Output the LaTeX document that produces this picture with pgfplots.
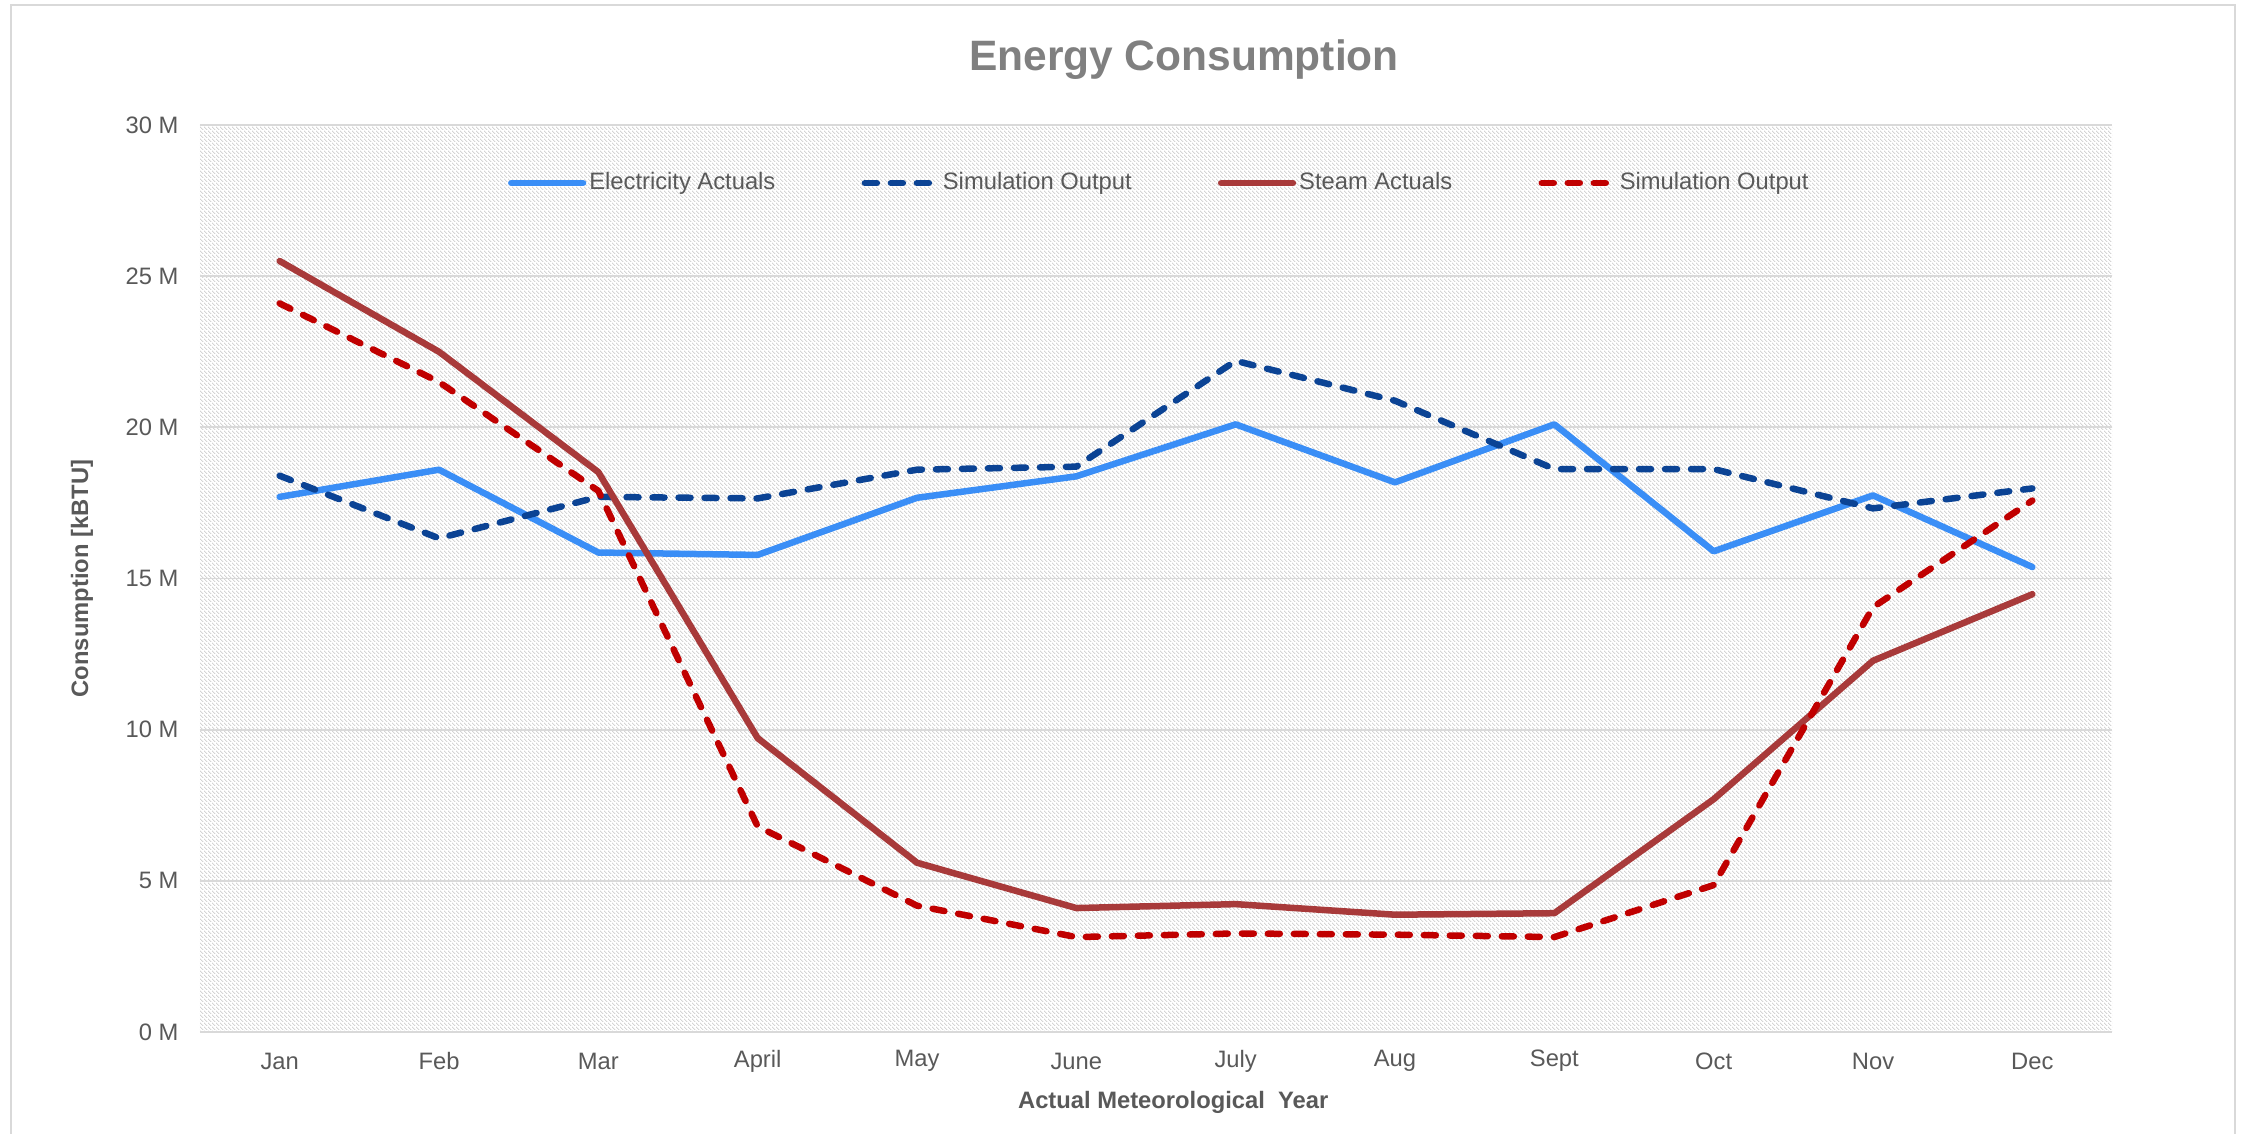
\documentclass[border=0pt]{standalone}
\usepackage{fontspec}
\setmainfont{Liberation Sans}
\usepackage{pgfplots}
\usepackage{pgfplotstable}
\pgfplotsset{compat=1.18}
\usetikzlibrary{patterns.meta}
\definecolor{elec}{HTML}{3A8EF6}
\definecolor{simblue}{HTML}{0B4394}
\definecolor{steam}{HTML}{A83A3A}
\definecolor{simred}{HTML}{C00000}
\definecolor{txt}{HTML}{595959}
\definecolor{gridc}{HTML}{D9D9D9}
\definecolor{hatchc}{HTML}{C4C4C4}
\definecolor{titlec}{HTML}{808080}
\tikzdeclarepattern{name=hatch, type=uncolored,
  bounding box={(0pt,0pt) and (1.6pt,1.6pt)},
  tile size={(1.6pt,1.6pt)},
  code={\draw[line width=0.3pt] (-0.2pt,1.8pt) -- (1.8pt,-0.2pt);}}
\pgfplotstableread{
x elec simb steam simr
0 17.7 18.4 25.5 24.1
1 18.6 16.33 22.5 21.5
2 15.86 17.7 18.52 17.9
3 15.78 17.65 9.72 6.8
4 17.67 18.6 5.6 4.18
5 18.38 18.7 4.1 3.14
6 20.1 22.2 4.23 3.26
7 18.18 20.88 3.88 3.22
8 20.1 18.62 3.93 3.14
9 15.9 18.62 7.7 4.86
10 17.75 17.32 12.28 14.05
11 15.38 17.98 14.48 17.58
}\data
\begin{document}
\begin{tikzpicture}
\useasboundingbox (0,0) rectangle (896.8pt,-453.2pt);
\draw[gridc, line width=0.8pt] (4.4pt,-2pt) rectangle (894pt,-480pt);
\begin{axis}[
  at={(80pt,-412.8pt)}, anchor=south west,
  scale only axis, width=764.8pt, height=362.8pt,
  xmin=-0.5, xmax=11.5, ymin=0, ymax=30,
  xtick={0,...,11},
  xticklabels={Jan,Feb,Mar,April,May,June,July,Aug,Sept,Oct,Nov,Dec},
  ytick={0,5,...,30},
  yticklabels={0 M,5 M,10 M,15 M,20 M,25 M,30 M},
  /pgf/number format/assume math mode=true,
  ymajorgrids, grid style={gridc, line width=0.75pt},
  axis line style={draw=none}, major tick length=0pt,
  axis background/.style={pattern={hatch}, pattern color=hatchc},
  tick label style={font=\fontsize{9.5}{11}\selectfont, text=txt},
  xticklabel style={anchor=center, inner sep=0pt, yshift=-11.6pt},
  yticklabel style={anchor=east, inner sep=0pt, xshift=-8.4pt},
  title={Energy Consumption},
  title style={at={(axis description cs:0.5146,1.056)}, anchor=center,
    font=\fontsize{17}{20}\selectfont\bfseries, text=titlec},
  xlabel={Actual Meteorological\ \ Year},
  ylabel={Consumption [kBTU]},
  every axis x label/.style={at={(axis description cs:0.509,-0.0772)}, anchor=center,
    font=\fontsize{9.5}{11}\selectfont\bfseries, text=txt},
  every axis y label/.style={at={(axis description cs:-0.0617,0.5)}, rotate=90, anchor=center,
    font=\fontsize{9.5}{11}\selectfont\bfseries, text=txt},
  legend columns=4,
  legend style={at={(axis description cs:0.502,0.936)}, anchor=center,
    draw=none, fill=none, font=\fontsize{9.5}{11}\selectfont, text=txt,
    nodes={inner xsep=1.2pt, inner ysep=1pt},
    /tikz/every even column/.append style={column sep=33.3pt}},
  legend image code/.code={\draw[#1] (0pt,0pt) -- (28.7pt,0pt);},
  every axis plot/.append style={line width=2.6pt, line cap=round, line join=round},
]
\addplot[elec] table[x=x,y=elec]{\data};
\addplot[simblue, dash pattern=on 4.8pt off 5.6pt] table[x=x,y=simb]{\data};
\addplot[steam] table[x=x,y=steam]{\data};
\addplot[simred, dash pattern=on 4.8pt off 5.6pt] table[x=x,y=simr]{\data};
\legend{Electricity Actuals, Simulation Output, Steam Actuals, Simulation Output}
\end{axis}
\end{tikzpicture}
\end{document}
